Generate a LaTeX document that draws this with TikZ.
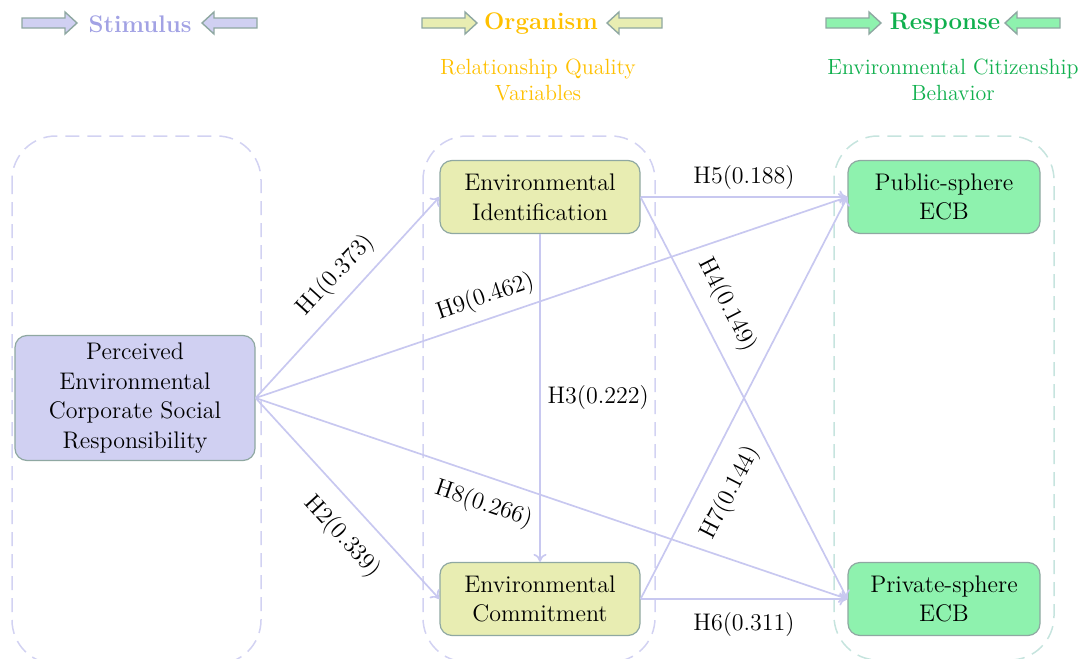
\documentclass[tikz,border=0pt]{standalone}
\usepackage{tikz}
\usetikzlibrary{arrows,arrows.meta,positioning}
\definecolor{stimFill}{HTML}{D0D0F2}
\definecolor{orgFill}{HTML}{E8EDB2}
\definecolor{respFill}{HTML}{8EF2AE}
\definecolor{boxEdge}{HTML}{8FA8A2}
\definecolor{stimText}{HTML}{A2A2E4}
\definecolor{orgText}{HTML}{FFC000}
\definecolor{respText}{HTML}{10B04E}
\definecolor{grpLav}{HTML}{D2D2F2}
\definecolor{grpTeal}{HTML}{C6E4DE}
\definecolor{linkLav}{HTML}{C8C8F0}

\begin{document}
\begin{tikzpicture}[x=0.5pt,y=-0.5pt,
  grp/.style={dash pattern=on 7pt off 4pt,line width=0.75pt,rounded corners=22pt},
  var/.style={draw=boxEdge,line width=0.6pt,rounded corners=6pt,align=center,
    font=\fontsize{12}{14.8}\selectfont,inner sep=1pt},
  hdarrow/.style={draw=boxEdge,line width=0.7pt},
  link/.style={linkLav,line width=0.85pt,-{To[length=4pt,width=6.5pt]}},
  lbl/.style={font=\fontsize{12}{14}\selectfont,text=black}]
  \useasboundingbox (0,0) rectangle (1089,659);

  % header arrows and titles
  \foreach \xa/\xb/\col in {22/202/stimFill,422/607/orgFill,826/1005/respFill}{
    \draw[hdarrow,fill=\col] (\xa,18)--++(43,0)--++(0,-6)--++(12,11)--++(-12,11)
      --++(0,-6)--++(-43,0)--cycle;
    \draw[hdarrow,fill=\col] (\xb,23)--++(12,-11)--++(0,6)--++(43,0)--++(0,10)
      --++(-43,0)--++(0,6)--cycle;
  }
  \node[font=\fontsize{12}{14}\selectfont\bfseries,text=stimText] (stim) at (140,24) {Stimulus};
  \node[font=\fontsize{12}{14}\selectfont\bfseries,text=orgText] (org) at (541,24) {Organism};
  \node[font=\fontsize{12}{14}\selectfont\bfseries,text=respText] (resp) at (945,24) {Response};
  \node[font=\fontsize{11}{13}\selectfont,text=orgText,align=center] (orgsub) at (538,80)
    {Relationship Quality\\Variables};
  \node[font=\fontsize{11}{13}\selectfont,text=respText,align=center] (respsub) at (953,80)
    {Environmental Citizenship\\Behavior};

  % group frames
  \draw[grp,grpLav] (12,136) rectangle (261,664);
  \draw[grp,grpLav] (423,136) rectangle (655,662);
  \draw[grp,grpTeal] (834,136) rectangle (1054,660);

  % variables
  \node[var,fill=stimFill,minimum width=120pt,minimum height=62.5pt] (pecsr) at (135,398)
    {Perceived\\Environmental\\Corporate Social\\Responsibility};
  \node[var,fill=orgFill,minimum width=100pt,minimum height=36.5pt] (ident) at (540,197)
    {Environmental\\Identification};
  \node[var,fill=orgFill,minimum width=100pt,minimum height=36.5pt] (commit) at (540,599)
    {Environmental\\Commitment};
  \node[var,fill=respFill,minimum width=96pt,minimum height=36.5pt] (public) at (944,197)
    {Public-sphere\\ECB};
  \node[var,fill=respFill,minimum width=96pt,minimum height=36.5pt] (private) at (944,599)
    {Private-sphere\\ECB};

  % paths
  \draw[link] (pecsr.east) -- (ident.west)
    node[lbl,sloped,above=2pt,pos=.53] (h1) {H1(0.373)};
  \draw[link] (pecsr.east) -- (commit.west)
    node[lbl,sloped,below=5pt,pos=.59] (h2) {H2(0.339)};
  \draw[link] (ident.south) -- (commit.north)
    node[lbl,right,pos=.5] (h3) {H3(0.222)};
  \draw[link] (ident.east) -- (private.west)
    node[lbl,sloped,above=4pt,pos=.30] (h4) {H4(0.149)};
  \draw[link] (ident.east) -- (public.west)
    node[lbl,above=0pt,pos=.5] (h5) {H5(0.188)};
  \draw[link] (commit.east) -- (private.west)
    node[lbl,below=3pt,pos=.5] (h6) {H6(0.311)};
  \draw[link] (commit.east) -- (public.west)
    node[lbl,sloped,below=6pt,pos=.30] (h7) {H7(0.144)};
  \draw[link] (pecsr.east) -- (private.west)
    node[lbl,sloped,below=4pt,pos=.40] (h8) {H8(0.266)};
  \draw[link] (pecsr.east) -- (public.west)
    node[lbl,sloped,above=1pt,pos=.40] (h9) {H9(0.462)};
\end{tikzpicture}
\end{document}
